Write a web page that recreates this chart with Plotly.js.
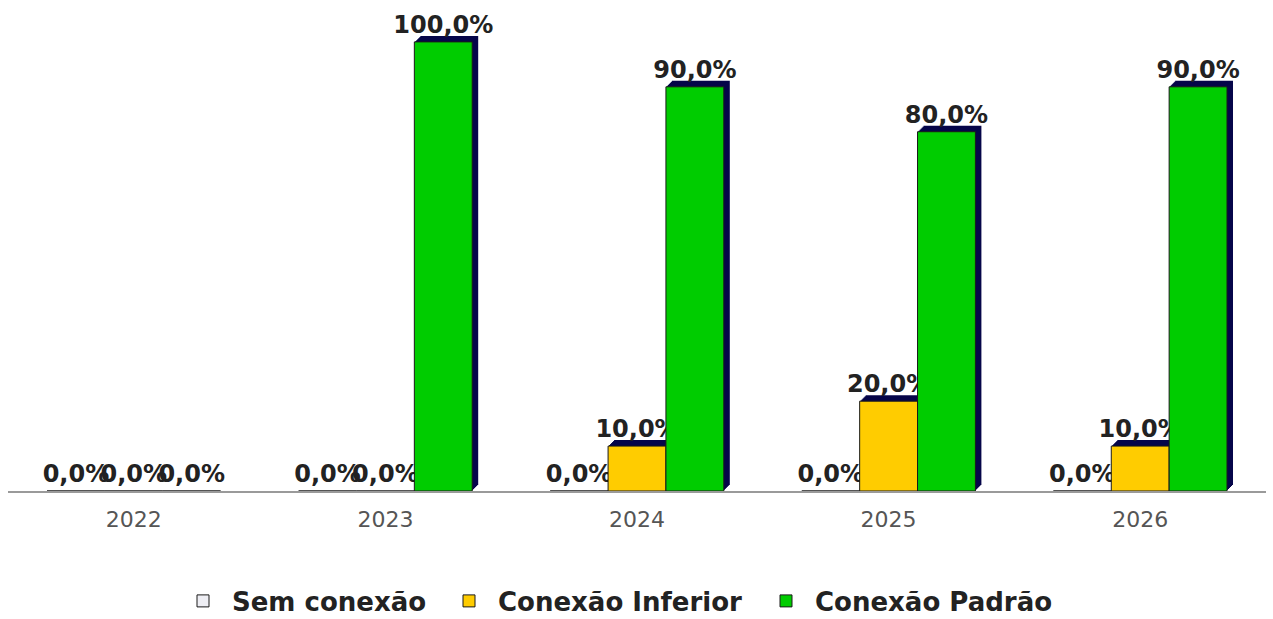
<!DOCTYPE html>
<html>
<head>
<meta charset="utf-8">
<script src="https://cdn.plot.ly/plotly-3.0.1.min.js"></script>
<style>html,body{margin:0;padding:0;background:#fff;}#chart{width:1273px;height:619px;}</style>
</head>
<body>
<div id="chart"></div>
<script>
const years = ['2022', '2023', '2024', '2025', '2026'];
const semConexao = [0, 0, 0, 0, 0];
const conexaoInferior = [0, 0, 10, 20, 10];
const conexaoPadrao = [0, 100, 90, 80, 90];
const seriesNames = ['Sem conexão', 'Conexão Inferior', 'Conexão Padrão'];
const seriesValues = [semConexao, conexaoInferior, conexaoPadrao];
const seriesColors = ['#EEEEF4', '#FFCC00', '#00CC00'];
const shadowColor = '#06064A';

const FW = 1273, FH = 619;
const M = {l: 8, r: 1, t: 13, b: 128};
const pw = FW - M.l - M.r, ph = FH - M.t - M.b;
const D = 6; // depth of the 3D extrusion in px
const yRange = [0, 105.1];
const font = 'DejaVu Sans';
const legendX = [174, 440, 757]; // px, left of each legend entry
const legendY = 601; // px, vertical centre of the legend row

const traces = [];
const layout = {
  width: FW, height: FH,
  margin: {l: M.l, r: M.r, t: M.t, b: M.b, pad: 0, autoexpand: false},
  paper_bgcolor: '#ffffff',
  plot_bgcolor: 'rgba(0,0,0,0)',
  barmode: 'group',
  bargap: 0.31,
  bargroupgap: 0,
  separators: ',.',
  showlegend: true,
  hovermode: false
};
const legendKeys = ['legend', 'legend2', 'legend3'];
legendKeys.forEach((key, s) => {
  layout[key] = {
    orientation: 'h', xref: 'container', yref: 'container',
    x: legendX[s] / FW, xanchor: 'left', y: (FH - legendY) / FH, yanchor: 'middle',
    font: {family: font, size: 26, color: '#222222', weight: 'bold'},
    itemwidth: 48, entrywidth: 300, entrywidthmode: 'pixels',
    itemclick: false, bgcolor: 'rgba(0,0,0,0)', borderwidth: 0
  };
});

// layers: 1..D are shadow layers (furthest first), D+1 is the front
for (let i = 1; i <= D + 1; i++) {
  const k = D + 1 - i; // pixel offset
  const xa = i === 1 ? 'xaxis' : 'xaxis' + i;
  const ya = i === 1 ? 'yaxis' : 'yaxis' + i;
  const xr = i === 1 ? 'x' : 'x' + i;
  const yr = i === 1 ? 'y' : 'y' + i;
  const front = k === 0;
  layout[xa] = {
    type: 'category', categoryorder: 'array', categoryarray: years,
    range: [-0.5, years.length - 0.5],
    domain: [k / pw, (pw - D + k) / pw],
    anchor: yr, fixedrange: true,
    visible: front,
    showline: front, linecolor: '#9a9a9a', linewidth: 2,
    showgrid: false, zeroline: false, ticks: '',
    tickfont: {family: font, size: 22, color: '#555555'},
    ticklabelstandoff: 8
  };
  layout[ya] = {
    range: yRange, domain: [k / ph, (ph - D + k) / ph],
    anchor: xr, visible: false, fixedrange: true,
    showgrid: false, zeroline: false
  };
  seriesNames.forEach((name, s) => {
    const t = {
      type: 'bar', x: years, y: seriesValues[s], xaxis: xr, yaxis: yr,
      name: name, showlegend: front, hoverinfo: 'skip',
      marker: front
        ? {color: seriesColors[s], line: {color: '#1a1a1a', width: 1}}
        : {color: shadowColor, line: {width: 0}}
    };
    if (front) {
      t.legend = legendKeys[s];
      t.texttemplate = '%{y:.1f}%';
      t.textposition = 'outside';
      t.constraintext = 'none';
      t.cliponaxis = false;
      t.textfont = {family: font, size: 24, color: '#222222', weight: 'bold'};
    }
    traces.push(t);
  });
}

Plotly.newPlot('chart', traces, layout, {displayModeBar: false, staticPlot: true});
</script>
</body>
</html>
